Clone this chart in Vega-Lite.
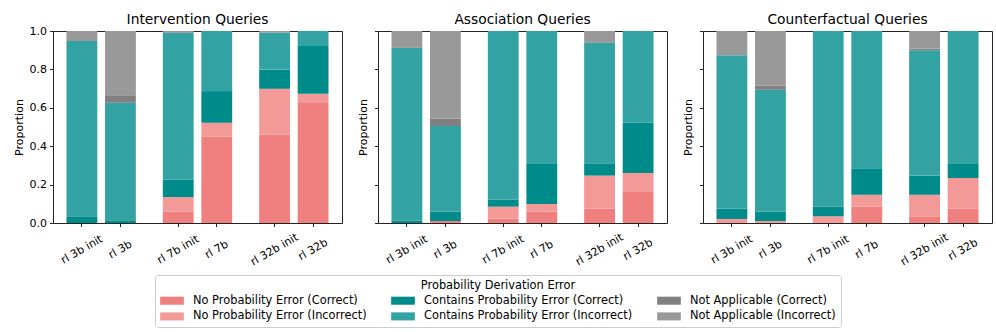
{
  "$schema": "https://vega.github.io/schema/vega-lite/v6.json",
  "background": "white",
  "padding": {"left": 12, "top": 12, "right": 5, "bottom": 5},
  "data": {"values": [
    {"query": "Intervention Queries", "model": "rl 3b init", "category": "Contains Probability Error (Correct)", "value": 0.035},
    {"query": "Intervention Queries", "model": "rl 3b init", "category": "Contains Probability Error (Incorrect)", "value": 0.913},
    {"query": "Intervention Queries", "model": "rl 3b init", "category": "Not Applicable (Incorrect)", "value": 0.052},
    {"query": "Intervention Queries", "model": "rl 3b", "category": "Contains Probability Error (Correct)", "value": 0.014},
    {"query": "Intervention Queries", "model": "rl 3b", "category": "Contains Probability Error (Incorrect)", "value": 0.612},
    {"query": "Intervention Queries", "model": "rl 3b", "category": "Not Applicable (Correct)", "value": 0.04},
    {"query": "Intervention Queries", "model": "rl 3b", "category": "Not Applicable (Incorrect)", "value": 0.334},
    {"query": "Intervention Queries", "model": "rl 7b init", "category": "No Probability Error (Correct)", "value": 0.06},
    {"query": "Intervention Queries", "model": "rl 7b init", "category": "No Probability Error (Incorrect)", "value": 0.075},
    {"query": "Intervention Queries", "model": "rl 7b init", "category": "Contains Probability Error (Correct)", "value": 0.09},
    {"query": "Intervention Queries", "model": "rl 7b init", "category": "Contains Probability Error (Incorrect)", "value": 0.765},
    {"query": "Intervention Queries", "model": "rl 7b init", "category": "Not Applicable (Incorrect)", "value": 0.01},
    {"query": "Intervention Queries", "model": "rl 7b", "category": "No Probability Error (Correct)", "value": 0.45},
    {"query": "Intervention Queries", "model": "rl 7b", "category": "No Probability Error (Incorrect)", "value": 0.072},
    {"query": "Intervention Queries", "model": "rl 7b", "category": "Contains Probability Error (Correct)", "value": 0.165},
    {"query": "Intervention Queries", "model": "rl 7b", "category": "Contains Probability Error (Incorrect)", "value": 0.313},
    {"query": "Intervention Queries", "model": "rl 32b init", "category": "No Probability Error (Correct)", "value": 0.46},
    {"query": "Intervention Queries", "model": "rl 32b init", "category": "No Probability Error (Incorrect)", "value": 0.239},
    {"query": "Intervention Queries", "model": "rl 32b init", "category": "Contains Probability Error (Correct)", "value": 0.1},
    {"query": "Intervention Queries", "model": "rl 32b init", "category": "Contains Probability Error (Incorrect)", "value": 0.192},
    {"query": "Intervention Queries", "model": "rl 32b init", "category": "Not Applicable (Incorrect)", "value": 0.009},
    {"query": "Intervention Queries", "model": "rl 32b", "category": "No Probability Error (Correct)", "value": 0.625},
    {"query": "Intervention Queries", "model": "rl 32b", "category": "No Probability Error (Incorrect)", "value": 0.048},
    {"query": "Intervention Queries", "model": "rl 32b", "category": "Contains Probability Error (Correct)", "value": 0.249},
    {"query": "Intervention Queries", "model": "rl 32b", "category": "Contains Probability Error (Incorrect)", "value": 0.078},

    {"query": "Association Queries", "model": "rl 3b init", "category": "Contains Probability Error (Correct)", "value": 0.012},
    {"query": "Association Queries", "model": "rl 3b init", "category": "Contains Probability Error (Incorrect)", "value": 0.9},
    {"query": "Association Queries", "model": "rl 3b init", "category": "Not Applicable (Incorrect)", "value": 0.088},
    {"query": "Association Queries", "model": "rl 3b", "category": "No Probability Error (Correct)", "value": 0.01},
    {"query": "Association Queries", "model": "rl 3b", "category": "Contains Probability Error (Correct)", "value": 0.05},
    {"query": "Association Queries", "model": "rl 3b", "category": "Contains Probability Error (Incorrect)", "value": 0.445},
    {"query": "Association Queries", "model": "rl 3b", "category": "Not Applicable (Correct)", "value": 0.038},
    {"query": "Association Queries", "model": "rl 3b", "category": "Not Applicable (Incorrect)", "value": 0.457},
    {"query": "Association Queries", "model": "rl 7b init", "category": "No Probability Error (Correct)", "value": 0.022},
    {"query": "Association Queries", "model": "rl 7b init", "category": "No Probability Error (Incorrect)", "value": 0.063},
    {"query": "Association Queries", "model": "rl 7b init", "category": "Contains Probability Error (Correct)", "value": 0.036},
    {"query": "Association Queries", "model": "rl 7b init", "category": "Contains Probability Error (Incorrect)", "value": 0.879},
    {"query": "Association Queries", "model": "rl 7b", "category": "No Probability Error (Correct)", "value": 0.06},
    {"query": "Association Queries", "model": "rl 7b", "category": "No Probability Error (Incorrect)", "value": 0.039},
    {"query": "Association Queries", "model": "rl 7b", "category": "Contains Probability Error (Correct)", "value": 0.212},
    {"query": "Association Queries", "model": "rl 7b", "category": "Contains Probability Error (Incorrect)", "value": 0.689},
    {"query": "Association Queries", "model": "rl 32b init", "category": "No Probability Error (Correct)", "value": 0.074},
    {"query": "Association Queries", "model": "rl 32b init", "category": "No Probability Error (Incorrect)", "value": 0.173},
    {"query": "Association Queries", "model": "rl 32b init", "category": "Contains Probability Error (Correct)", "value": 0.064},
    {"query": "Association Queries", "model": "rl 32b init", "category": "Contains Probability Error (Incorrect)", "value": 0.627},
    {"query": "Association Queries", "model": "rl 32b init", "category": "Not Applicable (Incorrect)", "value": 0.062},
    {"query": "Association Queries", "model": "rl 32b", "category": "No Probability Error (Correct)", "value": 0.161},
    {"query": "Association Queries", "model": "rl 32b", "category": "No Probability Error (Incorrect)", "value": 0.1},
    {"query": "Association Queries", "model": "rl 32b", "category": "Contains Probability Error (Correct)", "value": 0.261},
    {"query": "Association Queries", "model": "rl 32b", "category": "Contains Probability Error (Incorrect)", "value": 0.478},

    {"query": "Counterfactual Queries", "model": "rl 3b init", "category": "No Probability Error (Incorrect)", "value": 0.021},
    {"query": "Counterfactual Queries", "model": "rl 3b init", "category": "Contains Probability Error (Correct)", "value": 0.053},
    {"query": "Counterfactual Queries", "model": "rl 3b init", "category": "Contains Probability Error (Incorrect)", "value": 0.8},
    {"query": "Counterfactual Queries", "model": "rl 3b init", "category": "Not Applicable (Incorrect)", "value": 0.126},
    {"query": "Counterfactual Queries", "model": "rl 3b", "category": "No Probability Error (Incorrect)", "value": 0.01},
    {"query": "Counterfactual Queries", "model": "rl 3b", "category": "Contains Probability Error (Correct)", "value": 0.05},
    {"query": "Counterfactual Queries", "model": "rl 3b", "category": "Contains Probability Error (Incorrect)", "value": 0.634},
    {"query": "Counterfactual Queries", "model": "rl 3b", "category": "Not Applicable (Correct)", "value": 0.022},
    {"query": "Counterfactual Queries", "model": "rl 3b", "category": "Not Applicable (Incorrect)", "value": 0.284},
    {"query": "Counterfactual Queries", "model": "rl 7b init", "category": "No Probability Error (Incorrect)", "value": 0.035},
    {"query": "Counterfactual Queries", "model": "rl 7b init", "category": "Contains Probability Error (Correct)", "value": 0.05},
    {"query": "Counterfactual Queries", "model": "rl 7b init", "category": "Contains Probability Error (Incorrect)", "value": 0.915},
    {"query": "Counterfactual Queries", "model": "rl 7b", "category": "No Probability Error (Correct)", "value": 0.085},
    {"query": "Counterfactual Queries", "model": "rl 7b", "category": "No Probability Error (Incorrect)", "value": 0.062},
    {"query": "Counterfactual Queries", "model": "rl 7b", "category": "Contains Probability Error (Correct)", "value": 0.138},
    {"query": "Counterfactual Queries", "model": "rl 7b", "category": "Contains Probability Error (Incorrect)", "value": 0.715},
    {"query": "Counterfactual Queries", "model": "rl 32b init", "category": "No Probability Error (Correct)", "value": 0.035},
    {"query": "Counterfactual Queries", "model": "rl 32b init", "category": "No Probability Error (Incorrect)", "value": 0.112},
    {"query": "Counterfactual Queries", "model": "rl 32b init", "category": "Contains Probability Error (Correct)", "value": 0.1},
    {"query": "Counterfactual Queries", "model": "rl 32b init", "category": "Contains Probability Error (Incorrect)", "value": 0.653},
    {"query": "Counterfactual Queries", "model": "rl 32b init", "category": "Not Applicable (Correct)", "value": 0.008},
    {"query": "Counterfactual Queries", "model": "rl 32b init", "category": "Not Applicable (Incorrect)", "value": 0.092},
    {"query": "Counterfactual Queries", "model": "rl 32b", "category": "No Probability Error (Correct)", "value": 0.074},
    {"query": "Counterfactual Queries", "model": "rl 32b", "category": "No Probability Error (Incorrect)", "value": 0.161},
    {"query": "Counterfactual Queries", "model": "rl 32b", "category": "Contains Probability Error (Correct)", "value": 0.076},
    {"query": "Counterfactual Queries", "model": "rl 32b", "category": "Contains Probability Error (Incorrect)", "value": 0.689}
  ]},
  "spacing": 13,
  "resolve": {"scale": {"color": "shared"}},
  "hconcat": [
    {
      "width": 289, "height": 192,
      "title": {"text": "Intervention Queries", "offset": -1.5},
      "transform": [
        {"filter": "datum.query === 'Intervention Queries'"},
        {"calculate": "indexof(['No Probability Error (Correct)','No Probability Error (Incorrect)','Contains Probability Error (Correct)','Contains Probability Error (Incorrect)','Not Applicable (Correct)','Not Applicable (Incorrect)'], datum.category)", "as": "rank"}
      ],
      "mark": {"type": "bar", "width": {"band": 1.6}},
      "encoding": {
        "x": {"field": "model", "type": "nominal", "title": null,
              "scale": {"domain": ["rl 3b init", "gap1", "rl 3b", "gap2", "gap3", "rl 7b init", "gap4", "rl 7b", "gap5", "gap6", "rl 32b init", "gap7", "rl 32b"], "paddingInner": 0, "paddingOuter": 1.05},
              "axis": {"labelAngle": -30, "labelAlign": "center", "labelBaseline": "middle", "labelPadding": 23, "labelExpr": "indexof(datum.value, 'gap') === 0 ? '' : datum.value", "tickOpacity": {"condition": {"test": "indexof(datum.value, 'gap') === 0", "value": 0}, "value": 1}}},
        "y": {"field": "value", "type": "quantitative", "stack": "zero", "scale": {"domain": [0, 1]},
              "axis": {"title": "Proportion", "values": [0, 0.2, 0.4, 0.6, 0.8, 1], "format": ".1f"}},
        "color": {"field": "category", "type": "nominal",
                  "scale": {"domain": ["No Probability Error (Correct)", "No Probability Error (Incorrect)", "Contains Probability Error (Correct)", "Contains Probability Error (Incorrect)", "Not Applicable (Correct)", "Not Applicable (Incorrect)"],
                            "range": ["#F08080", "#F39A99", "#008B8B", "#33A2A2", "#808080", "#999999"]},
                  "legend": {"title": "Probability Derivation Error", "orient": "none", "legendX": 102, "legendY": 244, "columns": 3}},
        "order": {"field": "rank", "type": "quantitative"}
      }
    },
    {
      "width": 289, "height": 192,
      "title": {"text": "Association Queries", "offset": 4},
      "transform": [
        {"filter": "datum.query === 'Association Queries'"},
        {"calculate": "indexof(['No Probability Error (Correct)','No Probability Error (Incorrect)','Contains Probability Error (Correct)','Contains Probability Error (Incorrect)','Not Applicable (Correct)','Not Applicable (Incorrect)'], datum.category)", "as": "rank"}
      ],
      "mark": {"type": "bar", "width": {"band": 1.6}},
      "encoding": {
        "x": {"field": "model", "type": "nominal", "title": null,
              "scale": {"domain": ["rl 3b init", "gap1", "rl 3b", "gap2", "gap3", "rl 7b init", "gap4", "rl 7b", "gap5", "gap6", "rl 32b init", "gap7", "rl 32b"], "paddingInner": 0, "paddingOuter": 1.05},
              "axis": {"labelAngle": -30, "labelAlign": "center", "labelBaseline": "middle", "labelPadding": 23, "labelExpr": "indexof(datum.value, 'gap') === 0 ? '' : datum.value", "tickOpacity": {"condition": {"test": "indexof(datum.value, 'gap') === 0", "value": 0}, "value": 1}}},
        "y": {"field": "value", "type": "quantitative", "stack": "zero", "scale": {"domain": [0, 1]},
              "axis": {"title": "Proportion", "values": [0, 0.2, 0.4, 0.6, 0.8, 1], "labels": false, "titlePadding": 6}},
        "color": {"field": "category", "type": "nominal"},
        "order": {"field": "rank", "type": "quantitative"}
      }
    },
    {
      "width": 289, "height": 192,
      "title": {"text": "Counterfactual Queries", "offset": 4},
      "transform": [
        {"filter": "datum.query === 'Counterfactual Queries'"},
        {"calculate": "indexof(['No Probability Error (Correct)','No Probability Error (Incorrect)','Contains Probability Error (Correct)','Contains Probability Error (Incorrect)','Not Applicable (Correct)','Not Applicable (Incorrect)'], datum.category)", "as": "rank"}
      ],
      "mark": {"type": "bar", "width": {"band": 1.6}},
      "encoding": {
        "x": {"field": "model", "type": "nominal", "title": null,
              "scale": {"domain": ["rl 3b init", "gap1", "rl 3b", "gap2", "gap3", "rl 7b init", "gap4", "rl 7b", "gap5", "gap6", "rl 32b init", "gap7", "rl 32b"], "paddingInner": 0, "paddingOuter": 1.05},
              "axis": {"labelAngle": -30, "labelAlign": "center", "labelBaseline": "middle", "labelPadding": 23, "labelExpr": "indexof(datum.value, 'gap') === 0 ? '' : datum.value", "tickOpacity": {"condition": {"test": "indexof(datum.value, 'gap') === 0", "value": 0}, "value": 1}}},
        "y": {"field": "value", "type": "quantitative", "stack": "zero", "scale": {"domain": [0, 1]},
              "axis": {"title": "Proportion", "values": [0, 0.2, 0.4, 0.6, 0.8, 1], "labels": false, "titlePadding": 6}},
        "color": {"field": "category", "type": "nominal"},
        "order": {"field": "rank", "type": "quantitative"}
      }
    }
  ],
  "config": {
    "font": "DejaVu Sans",
    "view": {"stroke": "#222222", "strokeWidth": 1},
    "title": {"fontSize": 13.8, "fontWeight": "normal", "color": "#000000"},
    "axis": {"domain": false, "grid": false, "tickColor": "#222222", "tickSize": 3.5, "tickWidth": 1,
             "labelFontSize": 11, "labelColor": "#000000", "labelPadding": 3,
             "titleFontSize": 11, "titleFontWeight": "normal", "titleColor": "#000000", "titlePadding": 5},
    "legend": {"titleFontSize": 11.4, "titleFontWeight": "normal", "titleColor": "#000000", "titleAnchor": "middle", "titlePadding": 3,
               "labelFontSize": 11.4, "labelColor": "#000000", "labelOffset": 15, "labelLimit": 0,
               "symbolType": "M-2,-0.68H2V0.68H-2Z", "symbolSize": 140, "symbolOffset": 6, "symbolStrokeWidth": 0, "symbolOpacity": 1,
               "columnPadding": 24, "rowPadding": 4,
               "strokeColor": "#cccccc", "strokeWidth": 1, "cornerRadius": 3, "fillColor": "white", "padding": 5}
  }
}
